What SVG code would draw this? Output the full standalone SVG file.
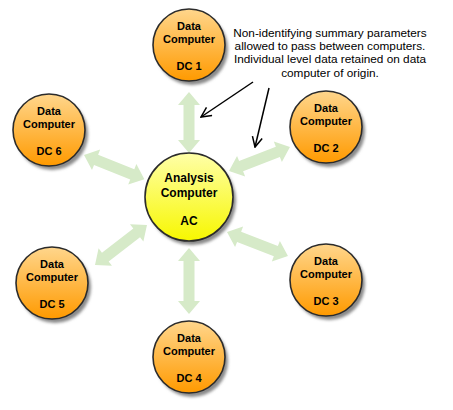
<svg xmlns="http://www.w3.org/2000/svg" width="453" height="410" viewBox="0 0 453 410">
<defs>
<linearGradient id="og" x1="0" y1="0" x2="0" y2="1">
<stop offset="0" stop-color="#ffd68c"/>
<stop offset="1" stop-color="#ff9a00"/>
</linearGradient>
<linearGradient id="yg" x1="0" y1="0" x2="0" y2="1">
<stop offset="0" stop-color="#ffffa8"/>
<stop offset="1" stop-color="#f7f700"/>
</linearGradient>
<filter id="sh" x="-30%" y="-30%" width="160%" height="160%">
<feGaussianBlur stdDeviation="1.5"/>
</filter>
<marker id="ah" viewBox="0 0 12 12" refX="11" refY="6" markerWidth="12" markerHeight="12" markerUnits="userSpaceOnUse" orient="auto">
<path d="M1,1 L11,6 L1,11" fill="none" stroke="#000" stroke-width="1.5"/>
</marker>
<polygon id="dbl" points="0,0 13,-11 13,-5.5 0,-5.5" />
</defs>
<style>
.shadow{fill:#8a8a8a;filter:url(#sh)}
.dc{fill:url(#og);stroke:#2b2b2b;stroke-width:1.6}
.ac{fill:url(#yg);stroke:#2b2b2b;stroke-width:1.6}
.t{font-family:"Liberation Sans",Arial,sans-serif;font-weight:bold;font-size:11px;fill:#000;text-anchor:middle}
.ta{font-family:"Liberation Sans",Arial,sans-serif;font-weight:bold;font-size:12px;fill:#000;text-anchor:middle}
.note{font-family:"Liberation Sans",Arial,sans-serif;font-size:11.8px;fill:#000;text-anchor:middle}
.ga{fill:#d6eac8}
.bl{stroke:#000;stroke-width:1.5;fill:none;marker-end:url(#ah)}
</style>
<rect width="453" height="410" fill="#fff"/>
<g id="connectors">
<g class="ga">
<polygon transform="translate(189,92) rotate(90)" points="0,0 13,-11 13,-5.5 48,-5.5 48,-11 61,0 48,11 48,5.5 13,5.5 13,11"/>
<polygon transform="translate(189,248) rotate(90)" points="0,0 13,-11 13,-5.5 53,-5.5 53,-11 66,0 53,11 53,5.5 13,5.5 13,11"/>
<polygon transform="translate(84,155) rotate(21.8)" points="0,0 13,-11 13,-5.5 52,-5.5 52,-11 65,0 52,11 52,5.5 13,5.5 13,11"/>
<polygon transform="translate(229,171) rotate(-21.5)" points="0,0 13,-11 13,-5.5 52.5,-5.5 52.5,-11 65.5,0 52.5,11 52.5,5.5 13,5.5 13,11"/>
<polygon transform="translate(95,265) rotate(-37.6)" points="0,0 13,-11 13,-5.5 52.6,-5.5 52.6,-11 65.6,0 52.6,11 52.6,5.5 13,5.5 13,11"/>
<polygon transform="translate(227,232) rotate(21.5)" points="0,0 13,-11 13,-5.5 52.5,-5.5 52.5,-11 65.5,0 52.5,11 52.5,5.5 13,5.5 13,11"/>
</g>
<line class="bl" x1="253" y1="82" x2="201" y2="117"/>
<line class="bl" x1="269" y1="88" x2="255" y2="147"/>
</g>
<g id="AC">
<circle class="shadow" cx="192" cy="201" r="44"/>
<circle class="ac" cx="189" cy="197" r="44"/>
<text class="ta" x="189" y="182">Analysis</text>
<text class="ta" x="189" y="197">Computer</text>
<text class="ta" x="189" y="225">AC</text>
</g>
<g id="DC1">
<circle class="shadow" cx="192" cy="49" r="36"/>
<circle class="dc" cx="189" cy="45" r="36"/>
<text class="t" x="189" y="30">Data</text>
<text class="t" x="189" y="43">Computer</text>
<text class="t" x="189" y="70">DC 1</text>
</g>
<g id="DC2">
<circle class="shadow" cx="329" cy="131" r="36"/>
<circle class="dc" cx="326" cy="127" r="36"/>
<text class="t" x="326" y="112">Data</text>
<text class="t" x="326" y="125">Computer</text>
<text class="t" x="326" y="152">DC 2</text>
</g>
<g id="DC3">
<circle class="shadow" cx="329" cy="284" r="36"/>
<circle class="dc" cx="326" cy="280" r="36"/>
<text class="t" x="326" y="265">Data</text>
<text class="t" x="326" y="278">Computer</text>
<text class="t" x="326" y="305">DC 3</text>
</g>
<g id="DC4">
<circle class="shadow" cx="192" cy="361" r="36"/>
<circle class="dc" cx="189" cy="357" r="36"/>
<text class="t" x="189" y="342">Data</text>
<text class="t" x="189" y="355">Computer</text>
<text class="t" x="189" y="382">DC 4</text>
</g>
<g id="DC5">
<circle class="shadow" cx="55" cy="287" r="36"/>
<circle class="dc" cx="52" cy="283" r="36"/>
<text class="t" x="52" y="268">Data</text>
<text class="t" x="52" y="281">Computer</text>
<text class="t" x="52" y="308">DC 5</text>
</g>
<g id="DC6">
<circle class="shadow" cx="52" cy="134" r="36"/>
<circle class="dc" cx="49" cy="130" r="36"/>
<text class="t" x="49" y="115">Data</text>
<text class="t" x="49" y="128">Computer</text>
<text class="t" x="49" y="155">DC 6</text>
</g>
<g id="note">
<text class="note" x="330" y="37">Non-identifying summary parameters</text>
<text class="note" x="330" y="50">allowed to pass between computers.</text>
<text class="note" x="330" y="63">Individual level data retained on data</text>
<text class="note" x="330" y="77">computer of origin.</text>
</g>
</svg>
